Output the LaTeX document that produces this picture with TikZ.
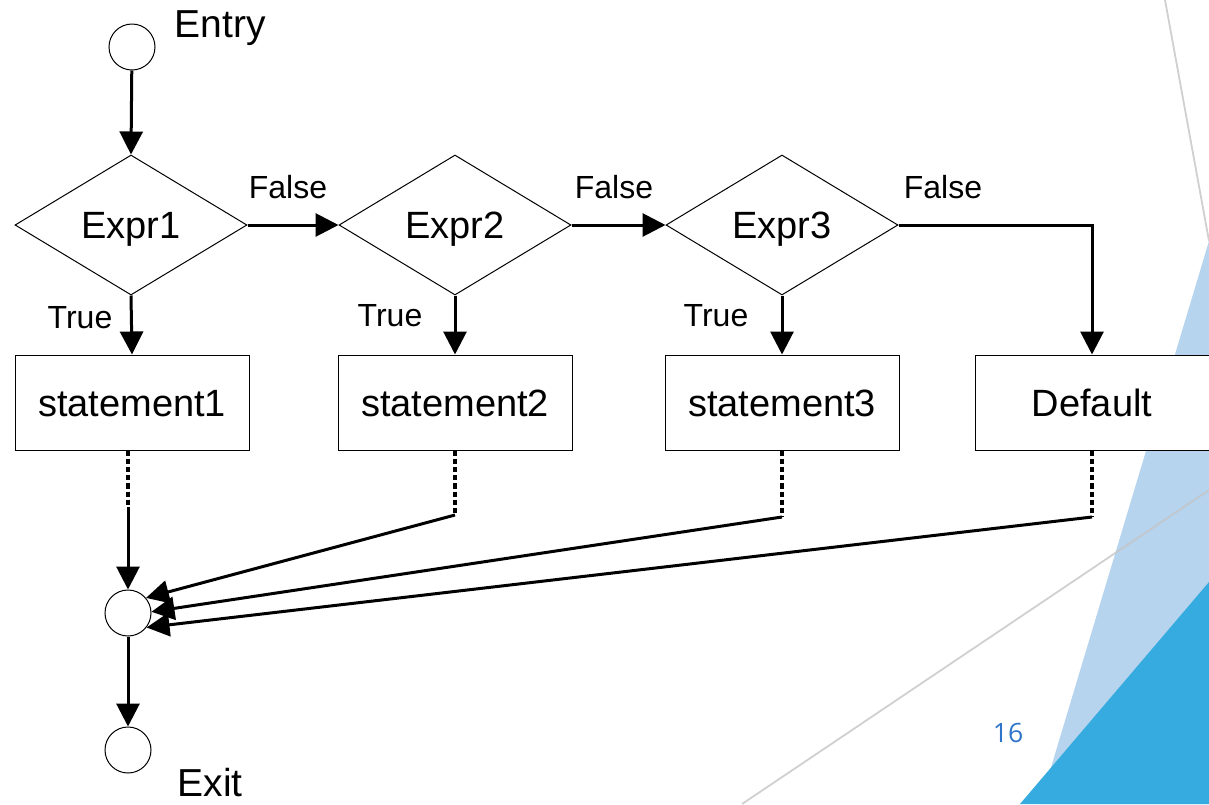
\documentclass[tikz,border=0pt]{standalone}
\usepackage{fontspec}
\setmainfont{Liberation Sans}
\newfontfamily\pagefont{Open Sans}
\usetikzlibrary{shapes.geometric,arrows.meta}

\definecolor{lightsky}{HTML}{B6D4EE}
\definecolor{deepsky}{HTML}{35ABDF}
\definecolor{rulegray}{HTML}{C4C4C4}
\definecolor{pageblue}{HTML}{2E75C9}

\tikzset{
  flow/.style={line width=1.5pt,-{Triangle[length=11.5pt,width=11.5pt]}},
  dotline/.style={line width=1.6pt,dash pattern=on 2.6pt off 1.5pt},
  cond/.style={diamond,draw,line width=0.5pt,fill=white,aspect=1.657,
    minimum width=116pt,minimum height=70pt,inner sep=0pt,
    text height=13.6pt,text depth=0pt,
    font=\fontsize{19}{22}\selectfont},
  stmt/.style={rectangle,draw,line width=0.5pt,fill=white,
    minimum width=117pt,minimum height=47.5pt,inner sep=0pt,
    text height=13.6pt,text depth=0pt,
    font=\fontsize{19}{22}\selectfont},
  term/.style={circle,draw,line width=0.5pt,fill=white,minimum size=23pt,inner sep=0pt},
  lbl/.style={font=\fontsize{16}{19}\selectfont,inner sep=0pt},
  biglbl/.style={font=\fontsize{19.5}{22}\selectfont,inner sep=0pt},
}

\begin{document}
\begin{tikzpicture}[x=0.5pt,y=-0.5pt]
  \useasboundingbox (0,0) rectangle (1209,804);

  % slide decoration in the lower right corner
  \fill[lightsky] (1209,241) -- (1040,804) -- (1209,804) -- cycle;
  \fill[deepsky] (1020,804) -- (1209,582) -- (1209,804) -- cycle;
  \draw[rulegray,line width=0.9pt,opacity=0.8] (1165,0) -- (1209,241);
  \draw[rulegray,line width=0.9pt,opacity=0.8] (742,804) -- (1209,490);

  % page number
  \node[font=\pagefont\fontsize{13.3}{15}\selectfont,text=pageblue,inner sep=0pt] (pnum) at (1008,733) {16};

  % terminals
  \node[term] (entry) at (132,47) {};
  \node[biglbl] (entrylbl) at (220,28) {Entry};
  \node[term] (merge) at (128,613) {};
  \node[term] (exit) at (128,750) {};
  \node[biglbl] (exitlbl) at (210,783) {Exit};

  % conditions
  \node[cond] (e1) at (131,225) {Expr1};
  \node[cond] (e2) at (455,225) {Expr2};
  \node[cond] (e3) at (782,225) {Expr3};

  % statements
  \node[stmt] (s1) at (132,402.5) {statement1};
  \node[stmt] (s2) at (455,402.5) {statement2};
  \node[stmt] (s3) at (782,402.5) {statement3};
  \node[stmt] (s4) at (1092,402.5) {Default};

  % branch labels
  \node[lbl] (f1) at (288,187) {False};
  \node[lbl] (f2) at (614,187) {False};
  \node[lbl] (f3) at (943,187) {False};
  \node[lbl] (t1) at (80,318) {True};
  \node[lbl] (t2) at (390,316) {True};
  \node[lbl] (t3) at (716,316) {True};

  % decision flow
  \draw[flow] (entry) -- (e1.north);
  \draw[flow] (e1.east) -- (e2.west);
  \draw[flow] (e2.east) -- (e3.west);
  \draw[flow] (e3.east) -| (s4.north);
  \draw[flow] (e1.south) -- (s1.north);
  \draw[flow] (e2.south) -- (s2.north);
  \draw[flow] (e3.south) -- (s3.north);

  % joins into the merge point
  \coordinate (j1) at (128,507);
  \coordinate (j2) at (455,515);
  \coordinate (j3) at (782,517);
  \coordinate (j4) at (1092,517);
  \draw[dotline] (s1.south -| j1) -- (j1);
  \draw[dotline] (s2.south) -- (j2);
  \draw[dotline] (s3.south) -- (j3);
  \draw[dotline] (s4.south) -- (j4);
  \draw[flow] (j1) -- (merge.north);
  \draw[flow] (j2) -- (merge.40);
  \draw[flow] (j3) -- (merge.3);
  \draw[flow] (j4) -- (merge.-38);

  \draw[flow] (merge.south) -- (exit.north);
\end{tikzpicture}
\end{document}
